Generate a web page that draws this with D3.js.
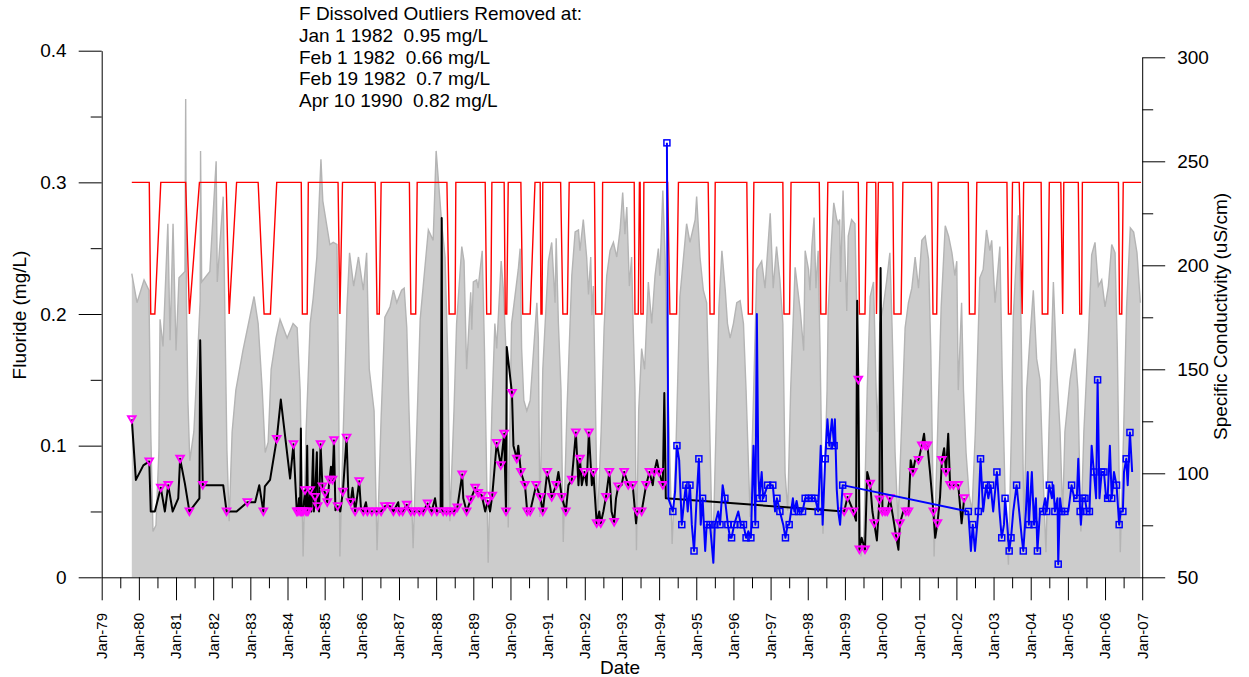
<!DOCTYPE html>
<html><head><meta charset="utf-8">
<script src="https://cdn.jsdelivr.net/npm/d3@7"></script>
<style>
body{margin:0;background:#fff}
svg{display:block}
text{font-family:"Liberation Sans",Arial,Helvetica,sans-serif;fill:#000}
</style>
</head><body>
<svg id="chart" width="1249" height="677"></svg>
<script>
// ---------------- DATA ----------------
const yearTicks = d3.range(1979, 2008);
const leftTicks = [0, 0.1, 0.2, 0.3, 0.4];
const rightTicks = [50, 100, 150, 200, 250, 300];
const noteLines = [
  "F Dissolved Outliers Removed at:",
  "Jan 1 1982  0.95 mg/L",
  "Feb 1 1982  0.66 mg/L",
  "Feb 19 1982  0.7 mg/L",
  "Apr 10 1990  0.82 mg/L"
];

// Specific conductivity (uS/cm), [decimal year, value]
const conductivity = [
[1979.81,196],[1979.95,182],[1980.14,193],[1980.27,188],[1980.32,120],[1980.38,72],[1980.46,75],[1980.54,111],[1980.57,174],[1980.65,161],[1980.78,220],[1980.84,164],[1980.92,220],[1981.00,159],[1981.08,194],[1981.24,197],[1981.26,280],[1981.28,183],[1981.32,135],[1981.37,106],[1981.48,120],[1981.59,160],[1981.65,183],[1981.66,255],[1981.69,192],[1981.91,197],[1982.08,250],[1982.11,192],[1982.27,233],[1982.32,170],[1982.37,111],[1982.43,77],[1982.51,120],[1982.61,140],[1982.80,159],[1983.10,185],[1983.21,172],[1983.32,140],[1983.40,110],[1983.48,115],[1983.56,150],[1983.69,165],[1983.80,174],[1983.99,165],[1984.15,172],[1984.26,170],[1984.34,140],[1984.42,60],[1984.50,120],[1984.61,172],[1984.69,184],[1984.79,204],[1984.90,251],[1984.95,231],[1985.14,210],[1985.23,211],[1985.33,210],[1985.37,150],[1985.41,60],[1985.50,120],[1985.60,180],[1985.67,206],[1985.78,190],[1985.91,204],[1986.04,188],[1986.13,206],[1986.20,150],[1986.33,130],[1986.41,63],[1986.52,127],[1986.62,175],[1986.76,180],[1986.85,188],[1986.94,182],[1987.07,188],[1987.14,189],[1987.21,170],[1987.27,130],[1987.38,64],[1987.49,127],[1987.57,174],[1987.79,217],[1987.92,212],[1988.00,255],[1988.06,241],[1988.15,220],[1988.24,204],[1988.32,150],[1988.37,77],[1988.48,130],[1988.55,172],[1988.69,209],[1988.75,202],[1988.82,150],[1988.93,187],[1988.96,169],[1989.00,192],[1989.09,193],[1989.13,189],[1989.24,207],[1989.30,160],[1989.40,57],[1989.50,130],[1989.58,172],[1989.63,160],[1989.75,202],[1989.81,188],[1989.90,150],[1989.94,74],[1990.00,140],[1990.03,172],[1990.21,198],[1990.26,208],[1990.30,160],[1990.36,135],[1990.44,130],[1990.53,135],[1990.71,182],[1990.75,165],[1990.79,79],[1990.87,150],[1991.02,202],[1991.11,211],[1991.20,182],[1991.23,213],[1991.29,172],[1991.36,140],[1991.42,67],[1991.52,130],[1991.65,195],[1991.74,216],[1991.83,217],[1991.87,207],[1991.96,222],[1992.05,204],[1992.10,186],[1992.16,204],[1992.19,176],[1992.23,190],[1992.28,140],[1992.34,75],[1992.44,120],[1992.52,170],[1992.59,195],[1992.68,207],[1992.77,211],[1992.86,204],[1992.95,217],[1993.02,235],[1993.08,215],[1993.13,228],[1993.20,190],[1993.26,204],[1993.30,172],[1993.35,140],[1993.39,63],[1993.45,130],[1993.53,160],[1993.61,150],[1993.71,192],[1993.80,172],[1993.89,195],[1993.98,208],[1994.02,195],[1994.10,236],[1994.16,204],[1994.21,160],[1994.27,120],[1994.35,66],[1994.45,110],[1994.56,185],[1994.74,220],[1994.83,211],[1994.97,222],[1995.01,233],[1995.10,204],[1995.19,188],[1995.28,182],[1995.34,140],[1995.44,57],[1995.53,120],[1995.61,180],[1995.69,207],[1995.78,188],[1995.84,172],[1995.91,165],[1996.00,172],[1996.09,182],[1996.18,183],[1996.27,172],[1996.34,140],[1996.45,79],[1996.53,130],[1996.63,198],[1996.76,202],[1996.85,189],[1996.99,225],[1997.07,189],[1997.16,209],[1997.25,193],[1997.33,172],[1997.39,100],[1997.46,82],[1997.54,140],[1997.66,199],[1997.80,178],[1997.89,159],[1997.93,207],[1998.02,198],[1998.06,188],[1998.11,209],[1998.17,223],[1998.22,189],[1998.28,207],[1998.33,160],[1998.41,71],[1998.52,140],[1998.55,178],[1998.64,212],[1998.70,230],[1998.78,222],[1998.82,220],[1998.86,222],[1998.88,192],[1998.95,236],[1999.05,178],[1999.09,214],[1999.18,222],[1999.27,220],[1999.34,160],[1999.43,60],[1999.51,70],[1999.60,140],[1999.68,185],[1999.77,192],[1999.84,140],[1999.88,120],[1999.94,172],[2000.03,180],[2000.12,192],[2000.21,206],[2000.27,170],[2000.35,110],[2000.43,76],[2000.54,130],[2000.62,170],[2000.71,182],[2000.80,189],[2000.89,204],[2000.98,189],[2001.07,212],[2001.16,214],[2001.25,203],[2001.31,160],[2001.40,60],[2001.51,130],[2001.59,180],[2001.70,219],[2001.79,214],[2001.88,206],[2001.96,195],[2002.01,202],[2002.05,140],[2002.14,182],[2002.19,140],[2002.26,110],[2002.34,90],[2002.42,82],[2002.51,120],[2002.63,194],[2002.72,198],[2002.81,217],[2002.90,207],[2002.95,212],[2003.04,182],[2003.17,209],[2003.23,150],[2003.31,90],[2003.40,56],[2003.48,120],[2003.53,175],[2003.67,224],[2003.71,202],[2003.76,150],[2003.82,70],[2003.89,140],[2003.98,165],[2004.07,188],[2004.16,155],[2004.25,145],[2004.33,100],[2004.41,62],[2004.49,120],[2004.61,192],[2004.70,150],[2004.79,120],[2004.86,80],[2004.92,120],[2005.06,145],[2005.19,160],[2005.27,140],[2005.35,72],[2005.43,120],[2005.55,165],[2005.64,205],[2005.73,211],[2005.82,190],[2005.91,193],[2006.00,180],[2006.09,190],[2006.18,210],[2006.27,206],[2006.33,160],[2006.41,62],[2006.50,120],[2006.58,180],[2006.68,218],[2006.77,216],[2006.86,206],[2006.95,182]
];

// Reporting limit (mg/L), [decimal year, value]
const reportingLimit = [
[1979.81,0.3],[1980.28,0.3],[1980.32,0.2],[1980.43,0.2],[1980.59,0.3],[1981.26,0.3],[1981.36,0.2],[1981.63,0.3],[1982.35,0.3],[1982.43,0.2],[1982.63,0.3],[1983.21,0.3],[1983.37,0.2],[1983.54,0.2],[1983.71,0.3],[1984.37,0.3],[1984.40,0.2],[1984.53,0.2],[1984.56,0.3],[1985.36,0.3],[1985.41,0.2],[1985.48,0.3],[1986.36,0.3],[1986.41,0.2],[1986.47,0.2],[1986.52,0.3],[1987.28,0.3],[1987.32,0.2],[1987.45,0.2],[1987.49,0.3],[1988.29,0.3],[1988.35,0.2],[1988.51,0.2],[1988.53,0.3],[1989.32,0.3],[1989.36,0.2],[1989.47,0.2],[1989.50,0.3],[1989.83,0.3],[1989.86,0.2],[1989.90,0.2],[1989.94,0.3],[1990.28,0.3],[1990.33,0.2],[1990.53,0.2],[1990.66,0.3],[1990.80,0.3],[1990.82,0.2],[1990.85,0.2],[1990.87,0.3],[1991.35,0.3],[1991.41,0.2],[1991.53,0.2],[1991.58,0.3],[1992.26,0.3],[1992.29,0.2],[1992.46,0.2],[1992.48,0.3],[1993.33,0.3],[1993.35,0.2],[1993.44,0.2],[1993.47,0.3],[1993.49,0.3],[1993.51,0.2],[1993.57,0.2],[1993.59,0.3],[1994.23,0.3],[1994.29,0.2],[1994.47,0.2],[1994.52,0.3],[1995.32,0.3],[1995.37,0.2],[1995.48,0.2],[1995.51,0.3],[1996.36,0.3],[1996.40,0.2],[1996.51,0.2],[1996.55,0.3],[1997.33,0.3],[1997.36,0.2],[1997.51,0.2],[1997.55,0.3],[1998.31,0.3],[1998.35,0.2],[1998.49,0.2],[1998.54,0.3],[1999.36,0.3],[1999.39,0.2],[1999.54,0.2],[1999.59,0.3],[1999.83,0.3],[1999.85,0.2],[1999.90,0.3],[2000.29,0.3],[2000.32,0.2],[2000.51,0.2],[2000.56,0.3],[2001.33,0.3],[2001.37,0.2],[2001.47,0.2],[2001.51,0.3],[2002.32,0.3],[2002.35,0.2],[2002.50,0.2],[2002.55,0.3],[2003.36,0.3],[2003.40,0.2],[2003.47,0.2],[2003.51,0.3],[2003.69,0.3],[2003.77,0.2],[2003.81,0.3],[2004.28,0.3],[2004.31,0.2],[2004.46,0.2],[2004.50,0.3],[2004.81,0.3],[2004.86,0.2],[2004.89,0.3],[2005.28,0.3],[2005.32,0.2],[2005.37,0.2],[2005.39,0.3],[2006.36,0.3],[2006.39,0.2],[2006.45,0.2],[2006.49,0.3],[2006.97,0.3]
];

// Fluoride, first record (mg/L): [decimal year, value, flagged (1 = triangle)]
const fluorideA = [
[1979.81,0.12,1],[1979.92,0.074,0],[1980.12,0.085,0],[1980.28,0.088,1],[1980.32,0.05,0],[1980.43,0.05,0],[1980.59,0.068,1],[1980.70,0.05,0],[1980.79,0.07,1],[1980.91,0.05,0],[1981.06,0.06,0],[1981.11,0.09,1],[1981.24,0.071,0],[1981.36,0.05,1],[1981.63,0.06,0],[1981.65,0.18,0],[1981.72,0.07,1],[1982.27,0.07,0],[1982.36,0.05,1],[1982.63,0.05,0],[1982.92,0.057,1],[1983.13,0.057,0],[1983.24,0.07,0],[1983.35,0.05,1],[1983.39,0.069,0],[1983.53,0.074,0],[1983.71,0.105,1],[1983.82,0.135,0],[1984.07,0.075,0],[1984.16,0.101,1],
[1984.25,0.05,1],[1984.28,0.05,1],[1984.31,0.06,0],[1984.34,0.05,1],[1984.36,0.113,0],[1984.38,0.05,1],[1984.42,0.05,1],[1984.47,0.066,1],[1984.50,0.05,1],[1984.53,0.10,0],[1984.55,0.05,1],[1984.58,0.05,0],[1984.61,0.066,1],[1984.64,0.05,0],[1984.69,0.097,0],[1984.71,0.05,0],[1984.74,0.061,1],[1984.79,0.095,0],[1984.81,0.054,1],[1984.85,0.05,0],[1984.89,0.101,1],[1984.94,0.069,1],[1985.01,0.064,1],[1985.07,0.057,1],[1985.13,0.074,1],[1985.17,0.084,0],[1985.21,0.074,1],[1985.25,0.104,1],[1985.29,0.051,0],[1985.35,0.054,1],[1985.42,0.05,0],[1985.49,0.065,1],[1985.59,0.106,1],[1985.64,0.061,0],[1985.70,0.057,1],[1985.75,0.068,0],[1985.82,0.05,1],[1985.93,0.073,1],[1985.98,0.051,0],[1986.04,0.05,1],[1986.11,0.057,0],[1986.15,0.05,1],[1986.27,0.05,1],[1986.40,0.05,1],[1986.52,0.05,1],[1986.62,0.054,1],[1986.76,0.054,1],[1986.85,0.05,1],[1986.98,0.057,0],[1987.01,0.05,1],[1987.10,0.05,1],[1987.21,0.055,1],[1987.32,0.05,1],[1987.41,0.05,1],[1987.55,0.05,1],[1987.65,0.05,1],[1987.77,0.056,1],[1987.88,0.05,1],[1987.97,0.06,0],[1988.02,0.05,1],[1988.12,0.05,0],[1988.15,0.273,0],[1988.17,0.05,0],[1988.19,0.05,1],[1988.28,0.05,1],[1988.37,0.05,1],[1988.48,0.05,1],[1988.57,0.053,1],[1988.70,0.078,1],[1988.73,0.06,0],[1988.82,0.05,1],[1988.93,0.059,1],[1989.05,0.068,1],[1989.13,0.064,1],[1989.23,0.062,1],[1989.32,0.05,0],[1989.39,0.058,1],[1989.45,0.05,0],[1989.51,0.062,1],[1989.63,0.102,1],[1989.74,0.085,1],[1989.83,0.109,1],[1989.88,0.05,1],[1989.90,0.175,0],[1990.04,0.14,1],[1990.08,0.10,0],[1990.17,0.09,1],[1990.21,0.10,0],[1990.28,0.08,1],[1990.39,0.07,1],[1990.45,0.05,1],[1990.53,0.05,1],[1990.69,0.07,1],[1990.80,0.061,1],[1990.87,0.05,1],[1990.99,0.08,1],[1991.06,0.07,0],
[1991.11,0.061,1],[1991.23,0.07,1],[1991.29,0.08,0],[1991.38,0.061,1],[1991.49,0.05,1],[1991.56,0.07,0],[1991.65,0.074,1],[1991.76,0.11,1],[1991.83,0.07,0],[1991.87,0.09,1],[1991.92,0.07,0],[1991.99,0.08,1],[1992.05,0.07,0],[1992.11,0.11,1],[1992.19,0.07,0],[1992.23,0.08,1],[1992.32,0.041,1],[1992.39,0.05,0],[1992.43,0.041,1],[1992.50,0.05,0],[1992.57,0.061,1],[1992.66,0.08,1],[1992.72,0.05,0],[1992.79,0.042,1],[1992.84,0.06,0],[1992.90,0.069,1],[1992.99,0.07,0],[1993.06,0.08,1],[1993.17,0.07,1],[1993.29,0.07,1],[1993.38,0.041,0],[1993.41,0.05,1],[1993.53,0.05,1],[1993.65,0.07,1],[1993.74,0.08,1],[1993.83,0.07,0],[1993.87,0.08,1],[1993.94,0.089,0],[1994.00,0.08,1],[1994.10,0.07,1],[1994.14,0.14,0],[1994.18,0.06,0],
[1998.98,0.05,1],[1999.07,0.061,1],[1999.23,0.05,1],[1999.30,0.043,0],[1999.33,0.21,0],[1999.36,0.15,1],[1999.39,0.021,1],[1999.45,0.03,0],[1999.54,0.021,1],[1999.60,0.08,0],[1999.68,0.071,1],[1999.74,0.05,0],[1999.79,0.041,1],[1999.86,0.028,0],[1999.93,0.059,1],[1999.96,0.235,0],[2000.01,0.05,1],[2000.08,0.05,1],[2000.14,0.05,1],[2000.21,0.06,1],[2000.30,0.045,0],[2000.38,0.031,1],[2000.44,0.021,0],[2000.48,0.041,1],[2000.57,0.05,0],[2000.64,0.05,1],[2000.71,0.05,1],[2000.77,0.089,0],[2000.83,0.08,1],[2000.89,0.089,0],[2000.98,0.089,1],[2001.07,0.10,1],[2001.13,0.109,0],[2001.16,0.10,1],[2001.22,0.10,1],[2001.29,0.08,0],[2001.38,0.05,1],[2001.43,0.03,0],[2001.49,0.041,1],[2001.56,0.061,0],[2001.61,0.089,1],[2001.67,0.098,0],[2001.72,0.08,1],[2001.78,0.109,0],[2001.83,0.07,1],[2001.92,0.07,1],[2001.99,0.07,0],[2002.05,0.07,1],[2002.14,0.041,0],[2002.21,0.06,1]
];

// Fluoride, second record (mg/L): [decimal year, value, flagged (1 = square)]
const fluorideB = [
[1994.21,0.33,1],[1994.25,0.06,0],[1994.37,0.05,1],[1994.43,0.065,0],[1994.48,0.10,1],[1994.54,0.089,0],[1994.61,0.04,1],[1994.68,0.06,0],[1994.72,0.07,1],[1994.77,0.05,0],[1994.83,0.07,1],[1994.88,0.04,0],[1994.94,0.02,1],[1995.01,0.06,0],[1995.07,0.09,1],[1995.12,0.04,0],[1995.17,0.06,1],[1995.24,0.02,0],[1995.28,0.04,1],[1995.37,0.04,1],[1995.46,0.011,0],[1995.50,0.04,1],[1995.59,0.05,0],[1995.64,0.04,1],[1995.71,0.07,0],[1995.77,0.06,1],[1995.85,0.04,1],[1995.91,0.03,0],[1995.95,0.03,1],[1996.02,0.04,1],[1996.13,0.05,0],[1996.20,0.04,1],[1996.27,0.04,1],[1996.34,0.03,1],[1996.40,0.035,0],[1996.47,0.03,1],[1996.54,0.10,0],[1996.59,0.04,1],[1996.63,0.20,0],[1996.67,0.08,0],[1996.70,0.06,1],[1996.76,0.08,0],[1996.80,0.06,1],[1996.92,0.07,1],[1997.06,0.07,1],[1997.12,0.05,0],[1997.17,0.06,1],[1997.25,0.05,1],[1997.34,0.04,0],[1997.40,0.03,1],[1997.46,0.04,0],[1997.50,0.04,1],[1997.60,0.06,0],[1997.64,0.05,1],[1997.70,0.058,0],[1997.75,0.05,1],[1997.86,0.05,1],[1997.93,0.06,1],[1998.02,0.06,1],[1998.11,0.06,1],[1998.20,0.06,1],[1998.28,0.05,1],[1998.35,0.10,0],[1998.40,0.04,0],[1998.47,0.09,1],[1998.53,0.12,0],[1998.58,0.10,1],[1998.65,0.12,0],[1998.71,0.10,1],[1998.73,0.12,0],[1998.78,0.067,0],[1998.82,0.05,0],[1998.87,0.04,0],[1998.94,0.07,1],
[2002.32,0.05,1],[2002.39,0.02,0],[2002.44,0.04,1],[2002.50,0.02,0],[2002.59,0.05,1],[2002.65,0.09,1],[2002.72,0.05,0],[2002.80,0.07,1],[2002.86,0.06,0],[2002.92,0.07,1],[2002.99,0.05,0],[2003.09,0.08,1],[2003.16,0.05,0],[2003.22,0.03,1],[2003.28,0.04,0],[2003.31,0.06,1],[2003.37,0.04,0],[2003.42,0.02,1],[2003.47,0.03,1],[2003.53,0.05,0],[2003.62,0.07,1],[2003.69,0.05,0],[2003.76,0.03,0],[2003.80,0.02,1],[2003.87,0.05,0],[2003.92,0.08,0],[2003.95,0.04,1],[2004.03,0.08,0],[2004.09,0.04,1],[2004.14,0.06,0],[2004.18,0.02,1],[2004.25,0.05,0],[2004.32,0.05,1],[2004.39,0.06,0],[2004.43,0.05,1],[2004.50,0.07,1],[2004.57,0.06,0],[2004.61,0.07,0],[2004.65,0.05,1],[2004.72,0.06,0],[2004.74,0.01,1],[2004.79,0.06,0],[2004.83,0.05,1],[2004.92,0.05,1],[2005.01,0.05,0],[2005.10,0.07,1],[2005.17,0.06,0],[2005.24,0.06,1],[2005.28,0.09,0],[2005.33,0.05,1],[2005.35,0.04,0],[2005.40,0.06,1],[2005.46,0.06,1],[2005.51,0.05,1],[2005.58,0.05,1],[2005.64,0.10,0],[2005.70,0.08,1],[2005.76,0.06,0],[2005.80,0.15,1],[2005.85,0.06,0],[2005.91,0.08,1],[2005.97,0.08,1],[2006.03,0.06,0],[2006.07,0.06,1],[2006.13,0.10,0],[2006.18,0.06,1],[2006.24,0.08,0],[2006.31,0.07,1],[2006.38,0.04,1],[2006.42,0.05,0],[2006.48,0.05,1],[2006.51,0.08,0],[2006.57,0.09,1],[2006.61,0.07,0],[2006.67,0.11,1],[2006.73,0.08,0]
];

// ---------------- CHART ----------------
const svg = d3.select("#chart");
const L = 101.7, R = 1142.2, B = 577.3;
const x = d3.scaleLinear().domain([1979, 2007]).range([L, R]);
const yL = d3.scaleLinear().domain([0, 0.4]).range([B, 50.7]);
const yR = d3.scaleLinear().domain([50, 300]).range([B, 57.3]);

// conductivity area
svg.append("path").datum(conductivity)
  .attr("d", d3.area().x(d => x(d[0])).y0(yR(50)).y1(d => yR(d[1])))
  .attr("fill", "#cccccc").attr("stroke", "none");
svg.append("path").datum(conductivity)
  .attr("d", d3.line().x(d => x(d[0])).y(d => yR(d[1])))
  .attr("fill", "none").attr("stroke", "#b4b4b4").attr("stroke-width", 1.4);

// reporting limit
svg.append("path").datum(reportingLimit)
  .attr("d", d3.line().x(d => x(d[0])).y(d => yL(d[1])))
  .attr("fill", "none").attr("stroke", "#ff0000").attr("stroke-width", 1.4);

// fluoride lines
const fl = d3.line().x(d => x(d[0])).y(d => yL(d[1]));
svg.append("path").datum(fluorideA).attr("d", fl)
  .attr("fill", "none").attr("stroke", "#000").attr("stroke-width", 2).attr("stroke-linejoin", "round");
svg.append("g").selectAll("path").data(fluorideA.filter(d => d[2] === 1)).join("path")
  .attr("transform", d => `translate(${x(d[0])},${yL(d[1])})`)
  .attr("d", "M-3.8,-3.1 L3.8,-3.1 L0,3.5 Z")
  .attr("fill", "none").attr("stroke", "#ff00ff").attr("stroke-width", 1.9);

svg.append("path").datum(fluorideB).attr("d", fl)
  .attr("fill", "none").attr("stroke", "#0000ff").attr("stroke-width", 2).attr("stroke-linejoin", "round");
svg.append("g").selectAll("rect").data(fluorideB.filter(d => d[2] === 1)).join("rect")
  .attr("x", d => x(d[0]) - 3).attr("y", d => yL(d[1]) - 3)
  .attr("width", 6).attr("height", 6)
  .attr("fill", "none").attr("stroke", "#0000ff").attr("stroke-width", 1.5);

// axes
function styleAxis(g) {
  g.selectAll("path.domain").attr("stroke", "#000");
  g.selectAll(".tick line").attr("stroke", "#000");
  g.selectAll("text").style("font-size", "19px").attr("fill", "#000");
}
const fmtL = d => d === 0 ? "0" : d3.format(".1f")(d);
svg.append("g").attr("transform", `translate(${L},0)`)
  .call(d3.axisLeft(yL).tickValues(leftTicks).tickFormat(fmtL).tickSize(23).tickSizeOuter(0).tickPadding(12))
  .call(styleAxis);
svg.append("g").attr("transform", `translate(${L},0)`)
  .call(d3.axisLeft(yL).tickValues([0.05, 0.15, 0.25, 0.35]).tickFormat("").tickSize(11).tickSizeOuter(0))
  .call(g => g.select(".domain").remove()).call(styleAxis);

svg.append("g").attr("transform", `translate(${R},0)`)
  .call(d3.axisRight(yR).tickValues(rightTicks).tickSize(23).tickSizeOuter(0).tickPadding(12))
  .call(styleAxis);
svg.append("g").attr("transform", `translate(${R},0)`)
  .call(d3.axisRight(yR).tickValues([75, 125, 175, 225, 275]).tickFormat("").tickSize(11).tickSizeOuter(0))
  .call(g => g.select(".domain").remove()).call(styleAxis);

svg.append("g").attr("transform", `translate(0,${B})`)
  .call(d3.axisBottom(x).tickValues(yearTicks).tickFormat("").tickSize(23).tickSizeOuter(0))
  .call(styleAxis);
svg.append("g").attr("transform", `translate(0,${B})`)
  .call(d3.axisBottom(x).tickValues(yearTicks.slice(0, -1).map(y => y + 0.5)).tickFormat("").tickSize(11).tickSizeOuter(0))
  .call(g => g.select(".domain").remove()).call(styleAxis);

svg.append("g").selectAll("text").data(yearTicks).join("text")
  .attr("transform", d => `translate(${x(d)},613) rotate(-90)`)
  .attr("text-anchor", "end").attr("dy", "0.36em")
  .style("font-size", "15px")
  .text(d => "Jan-" + String(d).slice(2));

// titles
svg.append("text").attr("transform", "translate(26,315) rotate(-90)")
  .attr("text-anchor", "middle").style("font-size", "19px").text("Fluoride (mg/L)");
svg.append("text").attr("transform", "translate(1227,316.5) rotate(-90)")
  .attr("text-anchor", "middle").style("font-size", "19px").text("Specific Conductivity (uS/cm)");
svg.append("text").attr("x", 620).attr("y", 674)
  .attr("text-anchor", "middle").style("font-size", "19px").text("Date");

svg.append("g").selectAll("text").data(noteLines).join("text")
  .attr("x", 299).attr("y", (d, i) => 20 + i * 21.8)
  .attr("xml:space", "preserve").style("white-space", "pre")
  .style("font-size", "19px").text(d => d);
</script>
</body></html>
